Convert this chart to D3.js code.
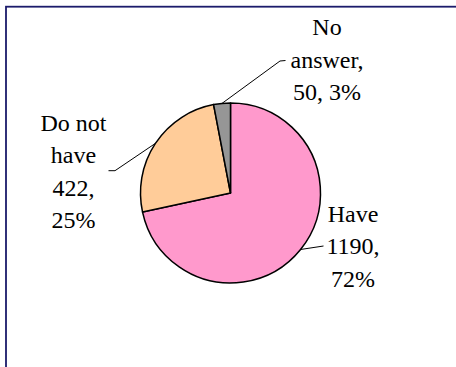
<!DOCTYPE html>
<html>
<head>
<meta charset="utf-8">
<script src="https://cdn.jsdelivr.net/npm/d3@7"></script>
<style>
  html, body { margin: 0; padding: 0; background: #fff; }
  svg { display: block; }
</style>
</head>
<body>
<svg id="chart" width="456" height="367"></svg>
<script>
const categories = ["Have", "Do not have", "No answer"];
const values = [1190, 422, 50];
const colors = ["#FF99CC", "#FFCC99", "#969696"];
// label text lines (name, value, percent as shown in the chart)
const labelNameLines = [["Have"], ["Do not", "have"], ["No", "answer,"]];

const total = d3.sum(values);
const pcts = values.map(v => Math.round(v / total * 100) + "%");
const labelLines = categories.map((c, i) => {
  if (i === 2) return [...labelNameLines[i], values[i] + ", " + pcts[i]];
  return [...labelNameLines[i], values[i] + ",", pcts[i]];
});

const svg = d3.select("#chart");
// chart area border (extends beyond right/bottom)
svg.append("rect")
  .attr("x", 6).attr("y", 6.7).attr("width", 480).attr("height", 400)
  .attr("fill", "none").attr("stroke", "#1b1b6b").attr("stroke-width", 1.8);

const cx = 230.5, cy = 193, r = 90;
const g = svg.append("g").attr("transform", `translate(${cx},${cy})`);

const pie = d3.pie().sort(null).value(d => d.value);
const arcs = pie(categories.map((c, i) => ({ name: c, value: values[i], i })));
const arc = d3.arc().innerRadius(0).outerRadius(r);

g.selectAll("path.slice").data(arcs).enter().append("path")
  .attr("class", "slice")
  .attr("d", arc)
  .attr("fill", d => colors[d.data.i])
  .attr("stroke", "#000")
  .attr("stroke-width", 1.5)
  .attr("stroke-linejoin", "round");

// label layout (block center x, first baseline y, leader-line path points after edge)
const layout = [
  { x: 353, y: 221.7, leader: [[323.5, 246]] },
  { x: 73.5, y: 130.7, leader: [[115, 170.7], [108.5, 170.7]] },
  { x: 327, y: 35, leader: [[280, 61], [285.5, 60.5]] }
];
const lineH = 32.5;

arcs.forEach((d, k) => {
  const i = d.data.i;
  const mid = (d.startAngle + d.endAngle) / 2;
  const ex = cx + r * Math.sin(mid), ey = cy - r * Math.cos(mid);
  const pts = [[ex, ey], ...layout[i].leader];
  svg.append("path")
    .attr("d", d3.line()(pts))
    .attr("fill", "none").attr("stroke", "#000").attr("stroke-width", 1);
  const t = svg.append("text")
    .style("font-family", "Liberation Serif")
    .style("font-size", "24px")
    .attr("fill", "#000")
    .attr("text-anchor", "middle");
  labelLines[i].forEach((ln, j) => {
    t.append("tspan").attr("x", layout[i].x).attr("y", layout[i].y + j * lineH).text(ln);
  });
});
</script>
</body>
</html>
